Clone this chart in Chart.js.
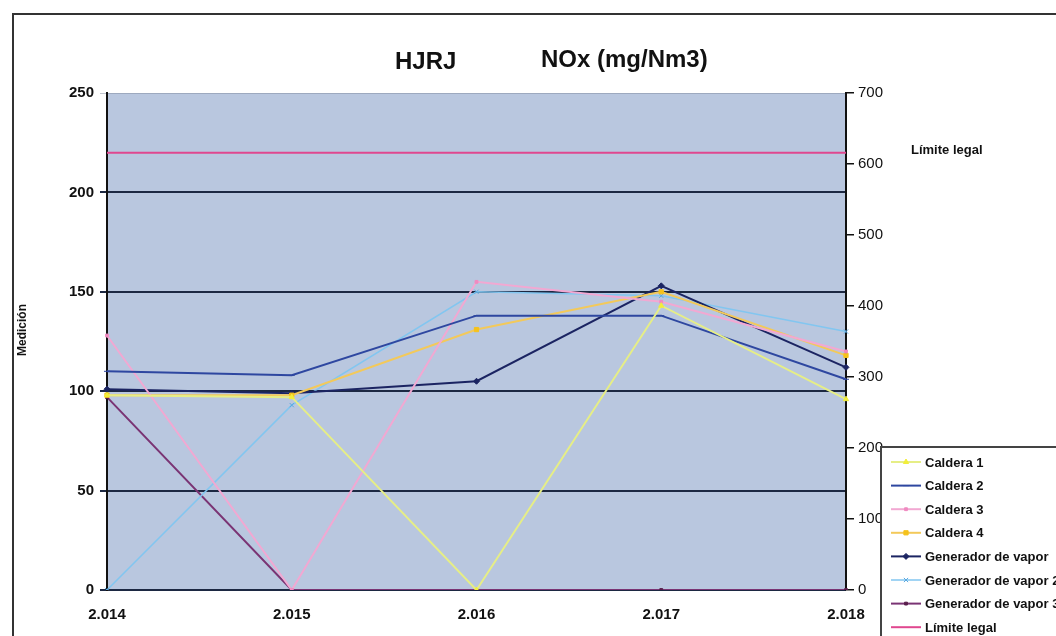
<!DOCTYPE html>
<html>
<head>
<meta charset="utf-8">
<script src="https://cdn.jsdelivr.net/npm/chart.js@4"></script>
<style>
  html, body { margin: 0; padding: 0; background: #fff; }
  #wrap { position: relative; width: 1056px; height: 636px; }
</style>
</head>
<body>
<div id="wrap"><canvas id="noxChart" width="1056" height="636"></canvas></div>
<script>
// Data
const years = ['2.014', '2.015', '2.016', '2.017', '2.018'];
const caldera1 = [98, 97, 0, 143, 96];
const caldera2 = [110, 108, 138, 138, 106];
const caldera3 = [128, 0, 155, 145, 120];
const caldera4 = [98, 98, 131, 150, 118];
const generador1 = [101, 99, 105, 153, 112];
const generador2 = [0, 93, 150, 148, 130];
const generador3 = [97, 0, 0, 0, 0];
const limiteLegal = [616, 616, 616, 616, 616]; // plotted on the right axis

const leftMax = 250, leftStep = 50;
const rightMax = 700, rightStep = 100;

const FONT = 'Liberation Sans, Arial, sans-serif';

function serie(label, data, color, opts) {
    return Object.assign({
        label: label,
        data: data,
        borderColor: color,
        backgroundColor: color,
        borderWidth: 2,
        pointRadius: 3,
        pointBorderWidth: 1,
        tension: 0,
        yAxisID: 'y'
    }, opts || {});
}

const datasets = [
    serie('Caldera 1', caldera1, '#e6ee86', { pointStyle: 'triangle', pointBackgroundColor: '#f2ee3a', pointBorderColor: '#f2ee3a' }),
    serie('Caldera 2', caldera2, '#2e47a0', { pointStyle: 'line', pointBorderColor: '#2e47a0' }),
    serie('Caldera 3', caldera3, '#f2a8d2', { pointStyle: 'rect', pointRadius: 2, pointBackgroundColor: '#f08ac0', pointBorderColor: '#f08ac0' }),
    serie('Caldera 4', caldera4, '#f3c95a', { pointStyle: 'rect', pointBackgroundColor: '#f5c21c', pointBorderColor: '#f5c21c' }),
    serie('Generador de vapor', generador1, '#1b2462', { pointStyle: 'rectRot', pointBackgroundColor: '#1b2462', pointBorderColor: '#1b2462' }),
    serie('Generador de vapor 2', generador2, '#82c6f0', { borderWidth: 1.5, pointStyle: 'crossRot', pointBorderColor: '#5aa8e0' }),
    serie('Generador de vapor 3', generador3, '#7a3474', { pointStyle: 'rect', pointRadius: 2, pointBackgroundColor: '#5a1f4c', pointBorderColor: '#5a1f4c' }),
    serie('Límite legal', limiteLegal, '#e0478f', { pointRadius: 0, yAxisID: 'y1' })
];

// plot area background, frame, title pieces and the boxed legend
const decor = {
    id: 'decor',
    beforeDraw(chart) {
        const { ctx, chartArea: a } = chart;
        ctx.save();
        ctx.fillStyle = '#b9c7df';
        ctx.fillRect(a.left, a.top, a.right - a.left, a.bottom - a.top);
        ctx.restore();
    },
    afterDraw(chart) {
        const ctx = chart.ctx;
        ctx.save();
        // outer frame
        ctx.strokeStyle = '#333';
        ctx.lineWidth = 2;
        ctx.beginPath();
        ctx.moveTo(13, 636);
        ctx.lineTo(13, 14);
        ctx.lineTo(1056, 14);
        ctx.stroke();

        // title
        ctx.fillStyle = '#111';
        ctx.font = 'bold 24px ' + FONT;
        ctx.textBaseline = 'middle';
        ctx.textAlign = 'left';
        ctx.fillText('HJRJ', 395, 62);
        ctx.fillText('NOx (mg/Nm3)', 541, 60);

        // right axis title
        ctx.font = 'bold 13px ' + FONT;
        ctx.fillText('Límite legal', 911, 150);

        // left axis title
        ctx.save();
        ctx.translate(23, 330);
        ctx.rotate(-Math.PI / 2);
        ctx.textAlign = 'center';
        ctx.font = 'bold 12px ' + FONT;
        ctx.fillText('Medición', 0, 0);
        ctx.restore();

        // legend box
        const lx = 881, ly = 447;
        ctx.fillStyle = '#fff';
        ctx.fillRect(lx, ly, 1056 - lx, 636 - ly);
        ctx.strokeStyle = '#444';
        ctx.lineWidth = 2;
        ctx.beginPath();
        ctx.moveTo(lx, 636);
        ctx.lineTo(lx, ly);
        ctx.lineTo(1056, ly);
        ctx.stroke();

        ctx.font = 'bold 13px ' + FONT;
        chart.data.datasets.forEach((ds, i) => {
            const y = 462 + i * 23.6;
            ctx.strokeStyle = ds.borderColor;
            ctx.lineWidth = ds.borderWidth;
            ctx.beginPath();
            ctx.moveTo(891, y);
            ctx.lineTo(921, y);
            ctx.stroke();
            if (ds.pointRadius > 0) {
                ctx.fillStyle = ds.pointBackgroundColor || ds.borderColor;
                ctx.strokeStyle = ds.pointBorderColor || ds.borderColor;
                ctx.lineWidth = 1;
                Chart.helpers.drawPoint(ctx, {
                    pointStyle: ds.pointStyle, radius: ds.pointRadius,
                    rotation: 0, borderWidth: 1
                }, 906, y);
            }
            ctx.fillStyle = '#111';
            ctx.fillText(ds.label, 925, y + 1);
        });
        ctx.restore();
    }
};

const ctx = document.getElementById('noxChart').getContext('2d');
const noxChart = new Chart(ctx, {
    type: 'line',
    data: { labels: years, datasets: datasets },
    options: {
        responsive: false,
        animation: false,
        layout: { padding: { top: 93, left: 0, right: 0, bottom: 0 } },
        plugins: {
            legend: { display: false },
            title: { display: false },
            tooltip: { enabled: false }
        },
        scales: {
            x: {
                offset: false,
                grid: { display: false },
                border: { display: false },
                ticks: { color: '#111', font: { family: FONT, size: 15, weight: 'bold' }, padding: 8 },
                afterFit: s => { s.height = 46; }
            },
            y: {
                position: 'left',
                min: 0, max: leftMax,
                ticks: { stepSize: leftStep, color: '#111', font: { family: FONT, size: 15, weight: 'bold' }, padding: 6 },
                grid: {
                    color: c => c.tick.value === leftMax ? 'rgba(130,140,160,0.5)' : '#1c2842',
                    lineWidth: c => c.tick.value === leftMax ? 1 : 2,
                    tickLength: 7
                },
                border: { display: true, color: '#111', width: 2 },
                afterFit: s => { s.width = 107; }
            },
            y1: {
                position: 'right',
                min: 0, max: rightMax,
                ticks: { stepSize: rightStep, color: '#111', font: { family: FONT, size: 15 }, padding: 4 },
                grid: { drawOnChartArea: false, color: '#111', tickLength: 8, lineWidth: 1.5 },
                border: { display: true, color: '#111', width: 2 },
                afterFit: s => { s.width = 210; }
            }
        }
    },
    plugins: [decor]
});
</script>
</body>
</html>
